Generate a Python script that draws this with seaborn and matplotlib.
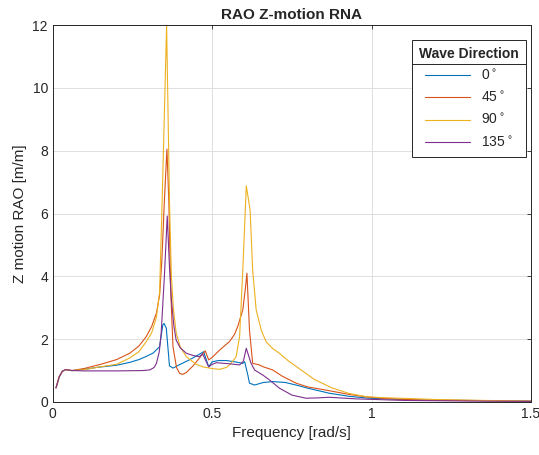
import seaborn as sns
import matplotlib.pyplot as plt
import pandas as pd
from matplotlib.lines import Line2D

# RAO values, one frequency list per wave direction
freq_0 = [0.01, 0.02, 0.03, 0.04, 0.06, 0.1, 0.137, 0.2, 0.241, 0.27, 0.293, 0.315, 0.335,
          0.345, 0.349, 0.356, 0.366, 0.377, 0.40, 0.43, 0.46, 0.473, 0.489, 0.50, 0.52,
          0.544, 0.57, 0.596, 0.602, 0.612, 0.617, 0.633, 0.66, 0.69, 0.73, 0.763, 0.8,
          0.867, 0.93, 0.993, 1.1, 1.18, 1.3, 1.4, 1.5]
rao_0 = [0.45, 0.8, 0.98, 1.03, 1.0, 1.04, 1.1, 1.17, 1.26, 1.35, 1.45, 1.56, 1.76,
         2.45, 2.5, 2.35, 1.15, 1.08, 1.2, 1.35, 1.52, 1.6, 1.12, 1.28, 1.32,
         1.32, 1.28, 1.23, 1.28, 0.85, 0.6, 0.54, 0.62, 0.65, 0.62, 0.54, 0.44,
         0.28, 0.18, 0.12, 0.08, 0.06, 0.05, 0.04, 0.03]

freq_45 = [0.01, 0.02, 0.03, 0.04, 0.06, 0.1, 0.15, 0.2, 0.241, 0.27, 0.293, 0.31, 0.325,
           0.335, 0.342, 0.35, 0.358, 0.364, 0.37, 0.377, 0.388, 0.398, 0.408, 0.42, 0.44,
           0.46, 0.478, 0.489, 0.5, 0.52, 0.54, 0.554, 0.57, 0.58, 0.596, 0.604, 0.609,
           0.617, 0.627, 0.648, 0.66, 0.69, 0.72, 0.763, 0.8, 0.867, 0.93, 0.993, 1.08,
           1.18, 1.35, 1.5]
rao_45 = [0.45, 0.8, 0.98, 1.03, 1.0, 1.07, 1.2, 1.35, 1.55, 1.78, 2.08, 2.4, 2.83,
          3.4, 4.5, 6.4, 8.05, 6.4, 3.5, 1.76, 1.1, 0.91, 0.88, 0.95, 1.15,
          1.4, 1.63, 1.34, 1.42, 1.62, 1.8, 1.92, 2.15, 2.4, 2.93, 3.6, 4.1,
          2.3, 1.23, 1.18, 1.12, 1.02, 0.82, 0.6, 0.48, 0.36, 0.24, 0.15, 0.09,
          0.06, 0.04, 0.02]

freq_90 = [0.01, 0.02, 0.03, 0.04, 0.06, 0.1, 0.137, 0.2, 0.241, 0.27, 0.293, 0.31, 0.325,
           0.335, 0.343, 0.357, 0.366, 0.372, 0.378, 0.387, 0.40, 0.419, 0.45, 0.47, 0.502,
           0.523, 0.545, 0.56, 0.575, 0.586, 0.596, 0.607, 0.619, 0.627, 0.638, 0.654,
           0.669, 0.69, 0.711, 0.74, 0.779, 0.82, 0.878, 0.93, 0.982, 1.03, 1.087, 1.2,
           1.35, 1.5]
rao_90 = [0.45, 0.8, 0.98, 1.03, 1.0, 1.03, 1.1, 1.2, 1.4, 1.6, 1.92, 2.2, 2.7,
          3.5, 6.4, 12.0, 6.4, 4.0, 3.0, 2.2, 1.75, 1.44, 1.2, 1.12, 1.06,
          1.04, 1.1, 1.24, 1.44, 2.08, 4.2, 6.88, 6.11, 4.2, 2.93, 2.29,
          1.92, 1.7, 1.55, 1.3, 1.02, 0.72, 0.44, 0.27, 0.17, 0.14, 0.12, 0.08,
          0.05, 0.03]

freq_135 = [0.01, 0.02, 0.03, 0.04, 0.06, 0.1, 0.2, 0.28, 0.304, 0.318, 0.325, 0.334, 0.34,
            0.35, 0.359, 0.366, 0.372, 0.38, 0.387, 0.40, 0.419, 0.44, 0.46, 0.47, 0.489,
            0.5, 0.513, 0.55, 0.586, 0.598, 0.607, 0.615, 0.622, 0.633, 0.66, 0.68, 0.711,
            0.75, 0.794, 0.83, 0.867, 0.95, 1.1, 1.3, 1.5]
rao_135 = [0.45, 0.8, 0.98, 1.03, 1.0, 0.99, 0.99, 1.0, 1.02, 1.1, 1.23, 1.6, 2.2,
           4.0, 5.92, 4.3, 3.25, 2.4, 1.97, 1.72, 1.55, 1.48, 1.44, 1.53, 1.12,
           1.2, 1.25, 1.22, 1.18, 1.3, 1.71, 1.45, 1.23, 1.02, 0.85, 0.7, 0.44,
           0.22, 0.12, 0.13, 0.15, 0.1, 0.05, 0.03, 0.02]

directions = ["0", "45", "90", "135"]
colors = ["#0072BD", "#D95319", "#EDB120", "#7E2F8E"]

frames = []
for d, f, r in zip(directions, [freq_0, freq_45, freq_90, freq_135],
                   [rao_0, rao_45, rao_90, rao_135]):
    frames.append(pd.DataFrame({"freq": f, "rao": r, "dir": d}))
df = pd.concat(frames, ignore_index=True)

sns.set_style("white")
plt.rcParams["font.family"] = ["Liberation Sans", "DejaVu Sans"]

fig = plt.figure(figsize=(5.39, 4.55), dpi=100)
ax = fig.add_axes([0.098, 0.1165, 0.887, 0.8285])

sns.lineplot(data=df, x="freq", y="rao", hue="dir", hue_order=directions,
             palette=colors, estimator=None, sort=False, lw=0.8, legend=False, ax=ax)

ax.set_xlim(0, 1.5)
ax.set_ylim(0, 12)
ax.set_xticks([0, 0.5, 1, 1.5])
ax.set_xticklabels(["0", "0.5", "1", "1.5"])
ax.set_yticks(range(0, 13, 2))
ax.grid(True, color="#dfdfdf", lw=0.7)
ax.set_axisbelow(True)
ax.tick_params(direction="in", length=3, width=0.6, top=True, right=True,
               labelsize=10, colors="#262626")
for s in ax.spines.values():
    s.set_color("#262626")
    s.set_linewidth(0.7)

ax.set_title("RAO Z-motion RNA", fontsize=11, fontweight="bold", pad=4)
ax.set_xlabel("Frequency [rad/s]", fontsize=11, color="#262626")
ax.set_ylabel("Z motion RAO [m/m]", fontsize=11, color="#262626")

handles = [Line2D([], [], color=c, lw=0.8) for c in colors]
labels = [d + r"$^\circ$" for d in directions]
leg = ax.legend(handles, labels, title="Wave Direction", loc="upper right",
                bbox_to_anchor=(0.989, 0.96), borderaxespad=0, fancybox=False,
                framealpha=1, edgecolor="#262626", fontsize=10, handlelength=3.2,
                labelspacing=0.55, borderpad=0.5)
leg.get_title().set_fontweight("bold")
leg.get_title().set_fontsize(10)
leg.get_frame().set_linewidth(0.7)

# line under the legend title, as in the reference
fig.canvas.draw()
fb = leg.get_frame().get_window_extent()
tb = leg.get_title().get_window_extent()
inv = fig.transFigure.inverted()
y = tb.y0 - 3
x0, yy = inv.transform((fb.x0, y))
x1, _ = inv.transform((fb.x1, y))
fig.add_artist(Line2D([x0, x1], [yy, yy], color="#262626", lw=0.7))

plt.savefig("out.png", dpi=100)
